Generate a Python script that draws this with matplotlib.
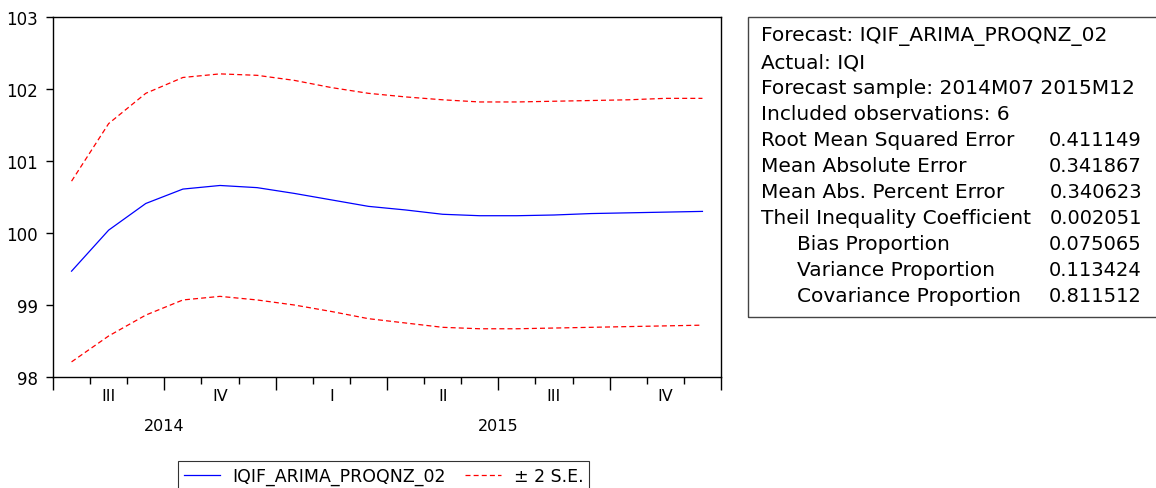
import numpy as np
import matplotlib.pyplot as plt
from matplotlib.patches import Rectangle
from matplotlib.transforms import blended_transform_factory

plt.rcParams['font.family'] = ['DejaVu Sans']

# monthly forecast 2014M07 - 2015M12
meses = ['2014M07', '2014M08', '2014M09', '2014M10', '2014M11', '2014M12',
         '2015M01', '2015M02', '2015M03', '2015M04', '2015M05', '2015M06',
         '2015M07', '2015M08', '2015M09', '2015M10', '2015M11', '2015M12']
previsao = [99.47, 100.04, 100.41, 100.61, 100.66, 100.63, 100.55, 100.46, 100.37,
            100.32, 100.26, 100.24, 100.24, 100.25, 100.27, 100.28, 100.29, 100.30]
superior = [100.72, 101.52, 101.94, 102.16, 102.21, 102.19, 102.12, 102.02, 101.94,
            101.89, 101.85, 101.82, 101.82, 101.83, 101.84, 101.85, 101.87, 101.87]
inferior = [98.21, 98.57, 98.86, 99.07, 99.12, 99.07, 99.00, 98.91, 98.81,
            98.75, 98.69, 98.67, 98.67, 98.68, 98.69, 98.70, 98.71, 98.72]

trimestres = ['III', 'IV', 'I', 'II', 'III', 'IV']
anos = ['2014', '2015']
anos_meio = [3, 12]

estat_nomes = ['Root Mean Squared Error', 'Mean Absolute Error', 'Mean Abs. Percent Error',
               'Theil Inequality Coefficient', 'Bias Proportion', 'Variance Proportion',
               'Covariance Proportion']
estat_valores = ['0.411149', '0.341867', '0.340623', '0.002051', '0.075065', '0.113424', '0.811512']
cabecalho = ['Forecast: IQIF_ARIMA_PROQNZ_02', 'Actual: IQI',
             'Forecast sample: 2014M07 2015M12', 'Included observations: 6']

W, H = 1156, 489
fig = plt.figure(figsize=(W / 100, H / 100), dpi=100)
ax = fig.add_axes([53 / W, (H - 378) / H, 668 / W, 360 / H])

x = np.arange(len(meses)) + 0.5
ax.plot(x, previsao, color='#0000ff', lw=0.9, label='IQIF_ARIMA_PROQNZ_02')
ax.plot(x, superior, color='#ff0000', lw=0.9, ls=(0, (4, 2.5)), label='± 2 S.E.')
ax.plot(x, inferior, color='#ff0000', lw=0.9, ls=(0, (4, 2.5)))

ax.set_xlim(0, len(meses))
ax.set_ylim(98, 103)
ax.set_yticks([98, 99, 100, 101, 102, 103])
ax.tick_params(axis='y', direction='out', length=5, labelsize=12, width=1, pad=6)

ax.set_xticks(np.arange(0, len(meses) + 1, 3))
ax.set_xticklabels([])
ax.set_xticks(np.arange(0, len(meses) + 1), minor=True)
ax.tick_params(axis='x', which='major', direction='out', length=9, width=1)
ax.tick_params(axis='x', which='minor', direction='out', length=5, width=1)

tr = blended_transform_factory(ax.transData, fig.transFigure)
for i, q in enumerate(trimestres):
    fig.text(1.5 + 3 * i, (H - 397) / H, q, transform=tr, ha='center', va='center', fontsize=11.5)
for a, m in zip(anos, anos_meio):
    fig.text(m, (H - 427) / H, a, transform=tr, ha='center', va='center', fontsize=11.5)

for s in ax.spines.values():
    s.set_linewidth(1.0)

leg = fig.legend(loc='lower left', bbox_to_anchor=(169 / W, -0.024), ncol=2, frameon=True,
                 fancybox=False, edgecolor='black', fontsize=12.5, handlelength=2.1,
                 handletextpad=0.7, columnspacing=1.1, borderpad=0.35)
leg.get_frame().set_linewidth(0.8)

# stats box
fig.patches.append(Rectangle((748 / W, (H - 318) / H), (W + 10 - 748) / W, 300 / H,
                             transform=fig.transFigure, fill=False, edgecolor='#444444', lw=1))
linhas = [(t, None, 761) for t in cabecalho]
for n, v in zip(estat_nomes, estat_valores):
    linhas.append((n, v, 797 if 'Proportion' in n else 761))
for k, (t, v, xx) in enumerate(linhas):
    yy = (H - (37 + 26 * k)) / H
    fig.text(xx / W, yy, t, ha='left', va='center', fontsize=14.5)
    if v is not None:
        fig.text(1142 / W, yy, v, ha='right', va='center', fontsize=14)

fig.savefig('out.png', dpi=100)
